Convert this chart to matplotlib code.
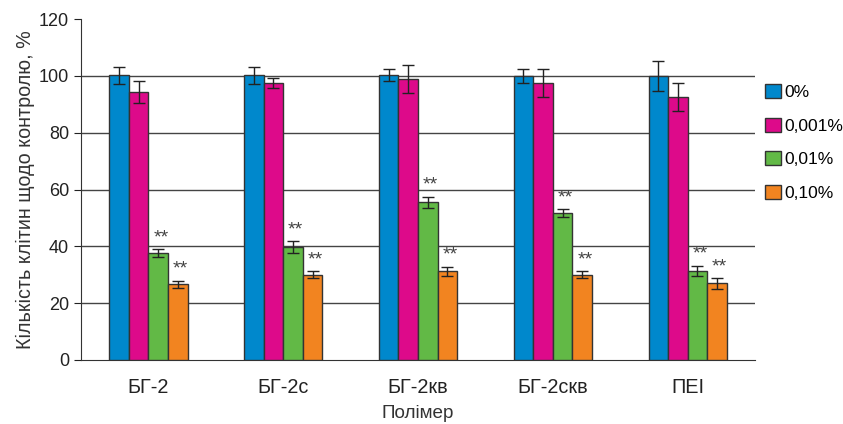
import numpy as np
from matplotlib import pyplot as plt

plt.rcParams['font.family'] = ['Liberation Sans', 'DejaVu Sans']

polymers = ['БГ-2', 'БГ-2с', 'БГ-2кв', 'БГ-2скв', 'ПЕІ']
conc = ['0%', '0,001%', '0,01%', '0,10%']
colors = ['#0088cc', '#dd0a8a', '#62b946', '#f28420']

v0 = [100.3, 100.3, 100.3, 100.0, 100.0]
v1 = [94.3, 97.6, 98.9, 97.6, 92.6]
v2 = [37.6, 39.8, 55.5, 51.8, 31.4]
v3 = [26.7, 30.0, 31.3, 30.0, 27.0]
e0 = [3.0, 3.0, 2.2, 2.4, 5.3]
e1 = [4.0, 1.7, 5.0, 5.0, 4.8]
e2 = [1.5, 2.0, 2.0, 1.3, 1.8]
e3 = [1.2, 1.3, 1.6, 1.3, 1.9]
stars2 = ['**'] * 5
stars3 = ['**'] * 5

vals = [v0, v1, v2, v3]
errs = [e0, e1, e2, e3]
stars = [None, None, stars2, stars3]

fig = plt.figure(figsize=(8.43, 4.24), dpi=100)
ax = fig.add_axes([0.0961, 0.151, 0.7995, 0.804])

x = np.arange(len(polymers))
w = 0.145
for i in range(4):
    xs = x + (i - 1.5) * w
    ax.bar(xs, vals[i], w, color=colors[i], edgecolor='#333333', linewidth=1.0,
           label=conc[i], zorder=3)
    ax.errorbar(xs, vals[i], yerr=errs[i], fmt='none', ecolor='#222222',
                elinewidth=1.0, capsize=4, capthick=1.0, zorder=4)
    if stars[i] is not None:
        for xx, v, e, s in zip(xs, vals[i], errs[i], stars[i]):
            ax.text(xx + 0.02, v + e + 1.0, s, ha='center', va='bottom',
                    fontsize=14, color='#444444', zorder=5)

ax.set_xlim(-0.5, 4.5)
ax.set_ylim(0, 120)
ax.set_yticks([0, 20, 40, 60, 80, 100, 120])
ax.set_xticks(x)
ax.set_xticklabels(polymers)
for yy in [20, 40, 60, 80, 100]:
    ax.axhline(yy, color='#444444', linewidth=1.0, zorder=1)

ax.spines['top'].set_visible(False)
ax.spines['right'].set_visible(False)
ax.spines['left'].set_color('#333333')
ax.spines['bottom'].set_color('#333333')
ax.tick_params(axis='y', length=5, labelsize=13, colors='#222222')
ax.tick_params(axis='x', length=0, labelsize=14.3, pad=13, colors='#222222')

ax.set_ylabel('Кількість клітин щодо контролю, %', fontsize=14.2, color='#333333',
              labelpad=3)
ax.set_xlabel('Полімер', fontsize=13.6, color='#333333', labelpad=6)

ax.legend(loc='upper left', bbox_to_anchor=(1.005, 0.83), frameon=False,
          fontsize=12.5, handlelength=0.9, handleheight=0.9, handletextpad=0.2,
          labelspacing=1.0, borderaxespad=0)

fig.savefig('out.png', dpi=100)
